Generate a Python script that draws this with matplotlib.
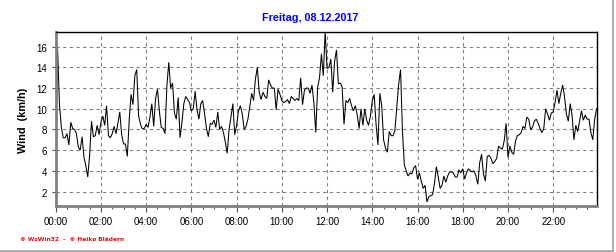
import numpy as np
import matplotlib
matplotlib.use("Agg")
import matplotlib.pyplot as plt
from matplotlib.lines import Line2D
from matplotlib.ticker import MultipleLocator, FuncFormatter

title = "Freitag, 08.12.2017"
ylabel = "Wind  (km/h)"
footer = "\u00a9 WsWin32  -  \u00a9 Heiko Blädern"
interval_min = 5
wind_kmh = [
    6.4, 15.8, 10.4, 8.2, 7.2, 7.2, 7.6, 6.5, 8.7, 8.1, 8.0, 7.6, 6.3, 6.0, 7.3, 5.3, 4.5, 3.4, 5.5, 8.8, 7.3, 7.4, 8.4, 7.5,
    8.7, 9.3, 8.4, 10.3, 7.4, 7.2, 7.6, 8.3, 7.6, 8.6, 9.7, 7.5, 6.6, 6.6, 5.4, 8.9, 11.4, 10.4, 13.2, 13.8, 9.3, 8.5, 8.05, 8.1,
    8.5, 8.2, 9.2, 10.5, 8.3, 11.0, 11.9, 9.8, 8.2, 8.1,
    7.6, 12.2, 14.5, 12.0, 12.5, 9.6, 9.0, 11.1, 7.2, 8.7, 10.5, 11.2, 10.9, 10.6, 9.8, 10.0, 11.7, 9.9, 9.0, 10.5,
    10.8, 9.5, 8.1, 7.3, 8.6, 8.5, 8.9, 8.2, 9.7, 8.0, 8.3, 7.7, 6.8, 5.7, 8.0, 9.2, 10.5, 7.5, 8.4, 9.8,
    10.3, 9.5, 8.0, 8.3, 9.0, 10.2, 11.5, 10.8, 12.9, 14.0, 11.6, 10.9, 11.6, 11.2, 11.0, 12.8, 12.3, 12.0,
    12.0, 9.9, 11.9, 11.4, 10.8, 10.6, 10.7, 10.9, 10.5, 11.2, 11.0, 10.8, 11.0, 10.8, 13.0, 10.4, 11.8, 12.0,
    12.0, 11.5, 12.3, 10.6, 7.7, 12.1, 13.0, 15.3, 13.2, 17.5, 13.9, 14.0, 14.8, 11.6, 14.6, 15.7, 12.4, 12.5,
    12.1, 8.5, 10.8, 10.6, 11.0, 10.3, 9.8, 10.3, 9.4, 8.1, 10.0, 8.4, 10.0, 8.9, 8.4, 9.3, 10.8, 11.4, 8.5, 6.5,
    11.5, 10.3, 7.0,
    6.2, 5.8, 7.8, 7.4, 7.4, 7.9, 10.2, 12.4, 13.8, 7.8, 4.6, 4.0, 3.5, 3.8, 3.7, 4.3, 4.5, 3.2, 3.8, 3.0,
    2.3, 2.6, 1.0, 1.5, 1.6, 1.7, 2.8, 4.4, 3.4, 2.3, 2.6, 3.5, 2.9, 3.5, 3.9, 3.9, 3.8, 3.4, 3.4, 4.1,
    3.8, 4.2, 3.2, 3.8, 4.2, 4.0, 3.9, 4.0, 3.5, 2.7, 4.8, 5.6, 3.7, 3.0, 5.4, 5.5, 5.2,
    4.7, 4.9, 5.2, 6.4, 6.2, 6.1, 6.9, 8.6, 5.3, 6.4, 5.8, 5.6, 6.9, 7.4, 7.5, 7.7, 8.3, 8.1, 9.2, 9.0,
    8.0, 8.2, 8.8, 9.0, 8.6, 8.1, 7.7, 8.1, 10.0, 9.5, 8.9, 9.6, 9.7, 10.6, 11.8, 10.5, 11.5, 12.3, 11.2, 9.5,
    8.8, 10.5, 9.4, 7.0, 8.4, 7.8, 8.8, 9.8, 8.9, 9.4, 9.0, 9.0, 7.7, 7.0, 9.0, 10.0,
]
y_ticks = [2, 4, 6, 8, 10, 12, 14, 16]
x_tick_hours = list(range(0, 24, 2))

hours = np.arange(len(wind_kmh)) * interval_min / 60.0

fig = plt.figure(figsize=(6.16, 2.53), dpi=100)
fig.patch.set_facecolor("white")
ax = fig.add_axes([55.7 / 616, 1 - 207 / 253, (597 - 55.7) / 616, (207 - 33.3) / 253])

ax.plot(hours, wind_kmh, color="black", lw=0.75, solid_joinstyle="miter")
ax.set_xlim(0, hours[-1] + 0.02)
ax.set_ylim(0.6, 17.4)

ax.set_yticks(y_ticks)
ax.set_xticks(x_tick_hours)
ax.xaxis.set_major_formatter(FuncFormatter(lambda v, p: f"{int(round(v)):02d}:00"))
ax.xaxis.set_minor_locator(MultipleLocator(0.5))
ax.tick_params(axis="both", which="major", labelsize=7, colors="#555555", labelcolor="black", length=4, width=0.8)
ax.tick_params(axis="x", which="minor", colors="#555555", length=2.5, width=0.8)
ax.tick_params(axis="y", which="major", length=3, pad=3)
ax.tick_params(axis="x", which="major", pad=3)

ax.grid(True, which="major", color="#808080", linestyle=(0, (3, 3)), lw=0.8)
for s in ["top", "right"]:
    ax.spines[s].set_color("black")
    ax.spines[s].set_linewidth(1.0)
for s in ["left", "bottom"]:
    ax.spines[s].set_color("#808080")
    ax.spines[s].set_linewidth(2.0)

ax.set_ylabel(ylabel, fontsize=7.8, fontweight="bold", family="Liberation Sans", labelpad=6)
for lbl in ax.get_xticklabels() + ax.get_yticklabels():
    lbl.set_family("Liberation Sans")

fig.text(310 / 616, 1 - 18 / 253, title, ha="center", va="center", color="#0000ff",
         fontsize=7.8, fontweight="bold", family="Liberation Sans")
fig.text(20 / 616, 1 - 240 / 253, footer, ha="left", va="center", color="#ff0000",
         fontsize=4.2, fontweight="bold", family="DejaVu Sans")

fig.add_artist(Line2D([0, 613 / 616], [1 - 251.5 / 253] * 2, transform=fig.transFigure, color="#a0a0a0", lw=1.2))
fig.add_artist(Line2D([613 / 616] * 2, [1 - 251.5 / 253, 1], transform=fig.transFigure, color="#a0a0a0", lw=1.2))

fig.savefig("out.png", dpi=100, facecolor="white")
